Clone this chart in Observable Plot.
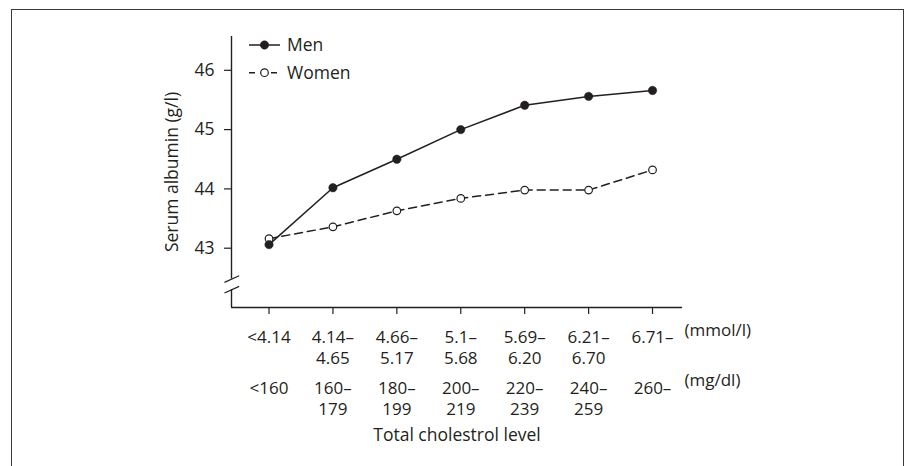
<!DOCTYPE html>
<html>
<head>
<meta charset="utf-8">
<script src="https://cdn.jsdelivr.net/npm/d3@7"></script>
<script src="https://cdn.jsdelivr.net/npm/@observablehq/plot@0.6"></script>
<style>
  html, body { margin: 0; padding: 0; background: #fff; }
  #wrap { position: relative; width: 911px; height: 466px; overflow: hidden; }
  #border { position: absolute; left: 11px; top: 9px; width: 893px; height: 480px;
            border: 1.5px solid #3a3a3a; pointer-events: none; box-sizing: border-box; }
  #wrap svg { position: absolute; left: 0; top: 0; }
</style>
</head>
<body>
<div id="wrap"><div id="border"></div></div>
<script>
const categoriesMmol = ["<4.14", "4.14–\n4.65", "4.66–\n5.17", "5.1–\n5.68", "5.69–\n6.20", "6.21–\n6.70", "6.71–"];
const categoriesMg = ["<160", "160–\n179", "180–\n199", "200–\n219", "220–\n239", "240–\n259", "260–"];
const men = [43.06, 44.02, 44.50, 45.00, 45.41, 45.56, 45.66];
const women = [43.16, 43.36, 43.63, 43.84, 43.98, 43.98, 44.32];
const series = ["Men", "Women"];
const yTicks = [43, 44, 45, 46];
const units = ["(mmol/l)", "(mg/dl)"];
const xTitle = "Total cholestrol level";
const yTitle = "Serum albumin (g/l)";
const yBreaks = [42.30, 42.48];

const ink = "#231f20";
const xDomain = [-0.587, 6.469];
const yDomain = [42.0, 46.57];
const idx = categoriesMmol.map((_, i) => i);

const rows = [];
idx.forEach(i => {
  rows.push({i, v: men[i], s: "Men"});
  rows.push({i, v: women[i], s: "Women"});
});
const menRows = rows.filter(d => d.s === "Men");
const womenRows = rows.filter(d => d.s === "Women");

const chart = Plot.plot({
  width: 911,
  height: 466,
  marginLeft: 231,
  marginRight: 229,
  marginTop: 36,
  marginBottom: 159,
  style: { fontFamily: "'Open Sans', sans-serif", fontSize: "17px", color: ink, background: "transparent" },
  x: { type: "linear", domain: xDomain, axis: null },
  y: { type: "linear", domain: yDomain, axis: null },
  marks: [
    // y axis line with a break
    Plot.ruleX([xDomain[0]], { y1: yBreaks[1], y2: yDomain[1], stroke: ink, strokeWidth: 1.4 }),
    Plot.ruleX([xDomain[0]], { y1: yDomain[0], y2: yBreaks[0], stroke: ink, strokeWidth: 1.4 }),
    Plot.link(yBreaks, { x1: xDomain[0] - 0.11, x2: xDomain[0] + 0.12, y1: d => d - 0.056, y2: d => d + 0.056, stroke: ink, strokeWidth: 1.2 }),
    // x axis line
    Plot.ruleY([yDomain[0]], { stroke: ink, strokeWidth: 1.4 }),
    Plot.axisX({ ticks: idx, tickSize: 7, tickFormat: () => "", label: null, stroke: ink, strokeWidth: 1.2 }),
    Plot.axisY({ ticks: yTicks, tickSize: 7, tickPadding: 10, tickFormat: d3.format("d"), label: null, fontSize: 17.5, stroke: ink, strokeWidth: 1.2 }),
    // lines
    Plot.line(womenRows, { x: "i", y: "v", stroke: ink, strokeWidth: 1.5, strokeDasharray: "8,5" }),
    Plot.line(menRows, { x: "i", y: "v", stroke: ink, strokeWidth: 1.5 }),
    Plot.dot(womenRows, { x: "i", y: "v", r: 3.8, fill: "white", stroke: ink, strokeWidth: 1.2 }),
    Plot.dot(menRows, { x: "i", y: "v", r: 4.2, fill: ink, stroke: ink, strokeWidth: 0.5 }),
    // category labels
    Plot.text(categoriesMmol, { x: (d, i) => i, text: d => d, frameAnchor: "bottom", lineAnchor: "top", dy: 20, lineHeight: 1.27, fill: ink }),
    Plot.text(categoriesMg, { x: (d, i) => i, text: d => d, frameAnchor: "bottom", lineAnchor: "top", dy: 71, lineHeight: 1.27, fill: ink }),
    Plot.text([units[0]], { text: d => d, frameAnchor: "bottom-right", textAnchor: "start", lineAnchor: "top", dx: 2, dy: 16, fill: ink }),
    Plot.text([units[1]], { text: d => d, frameAnchor: "bottom-right", textAnchor: "start", lineAnchor: "top", dx: 2, dy: 66, fill: ink }),
    Plot.text([xTitle], { text: d => d, frameAnchor: "bottom", lineAnchor: "top", dy: 121, fontSize: 17.5, fill: ink }),
    Plot.text([yTitle], { text: d => d, frameAnchor: "left", textAnchor: "middle", rotate: -90, dx: -59, fontSize: 17.5, fill: ink })
  ]
});

document.getElementById("wrap").prepend(chart);

// legend
const svg = d3.select(chart);
const lg = svg.append("g").attr("font-family", "'Open Sans', sans-serif").attr("font-size", 17.5)
  .attr("fill", ink).attr("text-anchor", "start");
series.forEach((name, k) => {
  const y = 45 + k * 27.7;
  const g = lg.append("g");
  g.append("line").attr("x1", 249).attr("x2", 280).attr("y1", y).attr("y2", y)
    .attr("stroke", ink).attr("stroke-width", 1.5)
    .attr("stroke-dasharray", name === "Women" ? "6,5" : null);
  g.append("circle").attr("cx", 264.5).attr("cy", y).attr("r", name === "Women" ? 3.8 : 4.2)
    .attr("fill", name === "Women" ? "white" : ink).attr("stroke", ink).attr("stroke-width", name === "Women" ? 1.2 : 0.5);
  g.append("text").attr("x", 287).attr("y", y).attr("dy", "0.35em").text(name);
});
</script>
</body>
</html>
